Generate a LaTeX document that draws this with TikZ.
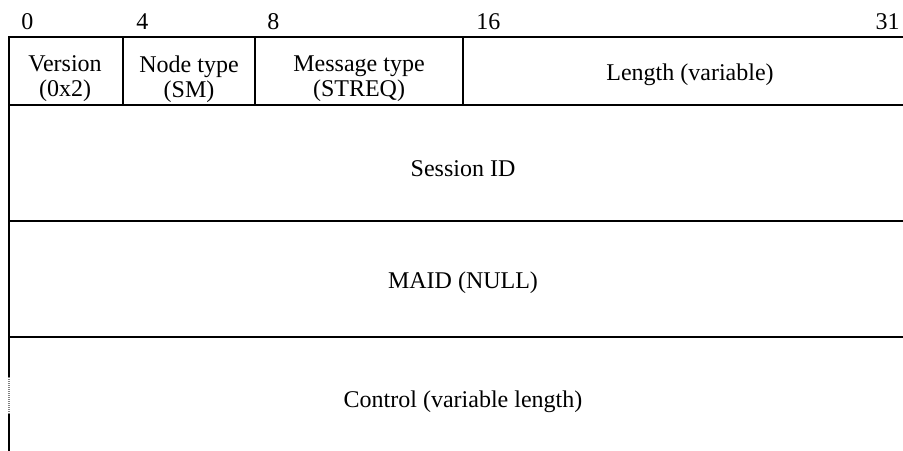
\documentclass[tikz,border=0pt]{standalone}
\usepackage{fontspec}
\setmainfont{Liberation Serif}
\begin{document}
\begin{tikzpicture}[x=0.5pt,y=-0.5pt,
  rule/.style={line width=0.7pt,line cap=rect},
  cell/.style={font=\fontsize{12}{12.5}\selectfont,align=center,inner sep=0pt},
  bitnum/.style={font=\fontsize{12}{12.5}\selectfont,inner sep=0pt,anchor=base west}]
\useasboundingbox (0,0) rectangle (903,450);
% horizontal rules
\draw[rule] (9,37) -- (920,37);
\draw[rule] (9,105) -- (920,105);
\draw[rule] (9,221) -- (920,221);
\draw[rule] (9,337) -- (920,337);
% left border with broken part
\draw[rule] (9,37) -- (9,377);
\draw[line width=0.7pt,gray,dash pattern=on 0.6pt off 0.4pt] (9,377) -- (9,415);
\draw[rule] (9,415) -- (9,460);
% field separators in first row
\draw[rule] (123,37) -- (123,105);
\draw[rule] (255,37) -- (255,105);
\draw[rule] (463,37) -- (463,105);
% bit numbers
\node[bitnum] (b0) at (21,29) {0};
\node[bitnum] (b4) at (136,29) {4};
\node[bitnum] (b8) at (267,29) {8};
\node[bitnum] (b16) at (476,29) {16};
\node[bitnum,anchor=base east] (b31) at (900,29) {31};
% fields
\node[cell] (ver) at (65,79) {Version\\(0x2)};
\node[cell] (ntype) at (189,79) {Node type\\(SM)};
\node[cell] (mtype) at (359,79) {Message type\\(STREQ)};
\node[cell] (len) at (690,75) {Length (variable)};
\node[cell] (sid) at (463,169) {Session ID};
\node[cell] (maid) at (463,283) {MAID (NULL)};
\node[cell] (ctrl) at (463,402) {Control (variable length)};
\end{tikzpicture}
\end{document}
